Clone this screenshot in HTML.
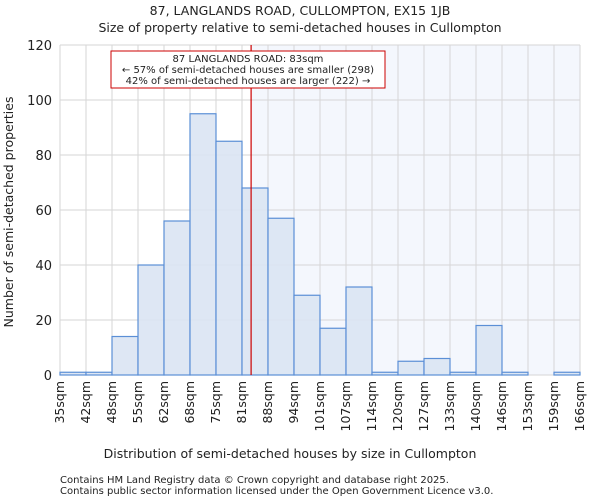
<!DOCTYPE html>
<html><head><meta charset="utf-8"><style>
body{margin:0;background:#fff;font-family:"DejaVu Sans","Liberation Sans",sans-serif}
svg text{font-family:"DejaVu Sans","Liberation Sans",sans-serif;fill:#222}
</style></head><body>
<svg id="c" width="600" height="500">
<text x="300" y="15" text-anchor="middle" font-size="12.5">87, LANGLANDS ROAD, CULLOMPTON, EX15 1JB</text>
<text x="300" y="32" text-anchor="middle" font-size="12.5">Size of property relative to semi-detached houses in Cullompton</text>
<g id="grid"></g><g id="bars"></g><g id="axes"></g>
<text x="290" y="458" text-anchor="middle" font-size="12.5">Distribution of semi-detached houses by size in Cullompton</text>
<text transform="translate(13,212) rotate(-90)" text-anchor="middle" font-size="12.5">Number of semi-detached properties</text>
<text x="60" y="483" font-size="10" fill="#444">Contains HM Land Registry data © Crown copyright and database right 2025.</text>
<text x="60" y="494" font-size="10" fill="#444">Contains public sector information licensed under the Open Government Licence v3.0.</text>
</svg>
<script>
const categories=["35sqm","42sqm","48sqm","55sqm","62sqm","68sqm","75sqm","81sqm","88sqm","94sqm","101sqm","107sqm","114sqm","120sqm","127sqm","133sqm","140sqm","146sqm","153sqm","159sqm","166sqm"];
const counts=[1,1,14,40,56,95,85,68,57,29,17,32,1,5,6,1,18,1,0,1];
const yTicks=[0,20,40,60,80,100,120];
const markerBin=7.35;
const NS="http://www.w3.org/2000/svg";
const L=60,R=580,T=45,B=375,YMAX=120;
const nb=counts.length,bw=(R-L)/nb;
const x=i=>L+i*bw, y=v=>B-(v/YMAX)*(B-T);
function mk(p,t,a){const e=document.createElementNS(NS,t);for(const k in a)e.setAttribute(k,a[k]);p.appendChild(e);return e;}
const g=document.getElementById('grid'),bars=document.getElementById('bars'),ax=document.getElementById('axes');
const mx=x(markerBin);
const sh=mk(g,'rect',{x:mx,y:T,width:R-mx,height:B-T,fill:'#f4f7fd'});


for(let i=0;i<=nb;i++){const l=mk(g,'line',{x1:x(i),x2:x(i),y1:T,y2:B,stroke:'#d6d6d6','stroke-width':1});

}
yTicks.forEach(v=>{const l=mk(g,'line',{x1:L,x2:R,y1:y(v),y2:y(v),stroke:'#d6d6d6','stroke-width':1});


const t=mk(ax,'text',{x:L-8,y:y(v)+5,'text-anchor':'end','font-size':13});t.textContent=v;

});
counts.forEach((c,i)=>{if(c<=0)return;const r=mk(bars,'rect',{x:x(i),y:y(c),width:bw,height:B-y(c),fill:'#dae4f3','fill-opacity':0.9,stroke:'#5b8fd6','stroke-width':1.2});

});
categories.forEach((c,i)=>{const t=mk(ax,'text',{transform:`translate(${x(i)+4},${B+6}) rotate(-90)`,'text-anchor':'end','font-size':12.5});t.textContent=c;

});
const ml=mk(ax,'line',{x1:mx,x2:mx,y1:T,y2:B,stroke:'#cc0000','stroke-width':1.2});


const box=mk(ax,'rect',{x:111,y:51,width:274,height:37,fill:'#fff',stroke:'#cc0000','stroke-width':1});


["87 LANGLANDS ROAD: 83sqm","← 57% of semi-detached houses are smaller (298)","42% of semi-detached houses are larger (222) →"].forEach((s,k)=>{const t=mk(ax,'text',{x:248,y:62+k*11,'text-anchor':'middle','font-size':10});t.textContent=s;

});
</script>
</body></html>
